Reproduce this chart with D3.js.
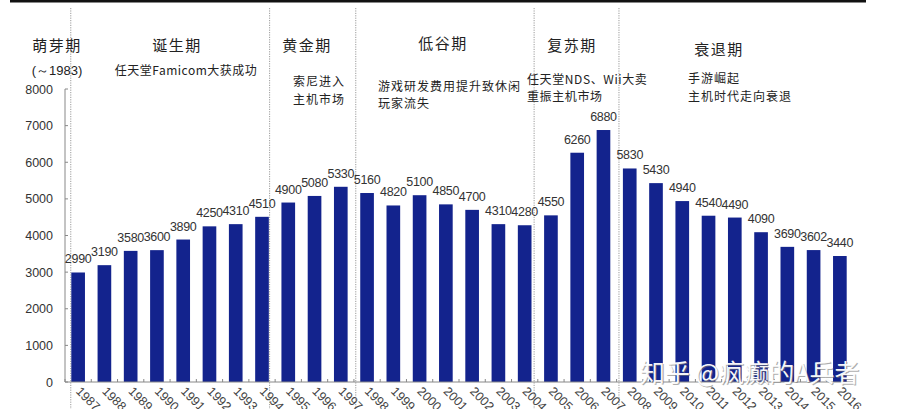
<!DOCTYPE html>
<html><head><meta charset="utf-8">
<script src="https://cdn.jsdelivr.net/npm/d3@7"></script>
<style>
html,body{margin:0;padding:0;background:#fff;}
svg{display:block;}
</style></head>
<body>
<script>
// ---- data ----
const years = [1987,1988,1989,1990,1991,1992,1993,1994,1995,1996,1997,1998,1999,2000,2001,2002,2003,2004,2005,2006,2007,2008,2009,2010,2011,2012,2013,2014,2015,2016];
const values = [2990,3190,3580,3600,3890,4250,4310,4510,4900,5080,5330,5160,4820,5100,4850,4700,4310,4280,4550,6260,6880,5830,5430,4940,4540,4490,4090,3690,3602,3440];
const yTicks = [0,1000,2000,3000,4000,5000,6000,7000,8000];
const phaseNames = ["萌芽期","诞生期","黄金期","低谷期","复苏期","衰退期"];
const phaseNotes = [["(～1983)"],["任天堂Famicom大获成功"],["索尼进入","主机市场"],["游戏研发费用提升致休闲","玩家流失"],["任天堂NDS、Wii大卖","重振主机市场"],["手游崛起","主机时代走向衰退"]];
const phaseStartYears = [1987,1995,1998,2005,2008];
const watermark = "知乎 @疯癫的A兵者";

const W = 899, H = 409;
const svg = d3.select("body").append("svg").attr("width",W).attr("height",H);

const x = d3.scaleBand().domain(years).range([65,853]).paddingInner(0.48).paddingOuter(0.24);
const y = d3.scaleLinear().domain([0,8000]).range([382,89]);
const step = x.step();

// top rule
svg.append("rect").attr("x",10).attr("y",0).attr("width",856).attr("height",2.5).attr("fill","#111");

// divider lines
const divOffsets = [-0.02, -0.45, -0.17, -0.38, -0.15];
svg.selectAll("line.div").data(phaseStartYears).enter().append("line")
  .attr("class","div")
  .attr("x1",(d,i)=>x(d)+divOffsets[i]*step).attr("x2",(d,i)=>x(d)+divOffsets[i]*step)
  .attr("y1",8).attr("y2",H)
  .attr("stroke","#9a9a9a").attr("stroke-width",1).attr("stroke-dasharray","1.2,1.2");

// phase titles & notes
const titlePos = [[57,51],[177,51],[307,51],[443,49],[572,51],[719,55]];
const cjk = "'Noto Sans CJK SC', sans-serif";
svg.selectAll("text.ph").data(phaseNames).enter().append("text")
  .attr("class","ph")
  .attr("x",(d,i)=>titlePos[i][0]).attr("y",(d,i)=>titlePos[i][1])
  .attr("text-anchor","middle").attr("font-family",cjk).attr("font-size",15)
  .attr("letter-spacing",1.5).attr("fill","#222").text(d=>d);

const notePos = [
  {x:57, y:75, a:"middle", ls:0, lh:17},
  {x:186, y:75, a:"middle", ls:0.5, lh:17},
  {x:319, y:86, a:"middle", ls:1, lh:18},
  {x:378, y:91, a:"start", ls:1, lh:17},
  {x:527, y:84, a:"start", ls:0.6, lh:17},
  {x:688, y:83, a:"start", ls:1, lh:18}
];
phaseNotes.forEach((lines,i)=>{
  const p = notePos[i];
  lines.forEach((t,j)=>{
    svg.append("text").attr("x",p.x).attr("y",p.y+j*p.lh)
      .attr("text-anchor",p.a)
      .attr("font-family", i===0 ? "'Liberation Sans', Arial, sans-serif" : cjk)
      .attr("font-size", i===0 ? 13 : 12)
      .attr("letter-spacing",p.ls).attr("fill","#222").text(t);
  });
});

// axes
const gy = svg.append("g");
gy.append("line").attr("x1",65).attr("x2",65).attr("y1",y(8000)).attr("y2",y(0)).attr("stroke","#888");
gy.selectAll("line.t").data(yTicks).enter().append("line")
  .attr("x1",65).attr("x2",68).attr("y1",d=>y(d)).attr("y2",d=>y(d)).attr("stroke","#888");
gy.selectAll("text").data(yTicks).enter().append("text")
  .attr("x",53).attr("y",d=>y(d)+4.5).attr("text-anchor","end")
  .attr("font-family","'Liberation Sans', Arial, sans-serif").attr("font-size",12.5)
  .attr("fill","#333").text(d=>d);

// bars
svg.selectAll("rect.bar").data(values).enter().append("rect")
  .attr("class","bar")
  .attr("x",(d,i)=>x(years[i])).attr("width",x.bandwidth())
  .attr("y",d=>y(d)).attr("height",d=>y(0)-y(d))
  .attr("fill","#13238d");

// value labels
svg.selectAll("text.val").data(values).enter().append("text")
  .attr("class","val")
  .attr("x",(d,i)=>x(years[i])+x.bandwidth()/2).attr("y",d=>y(d)-9)
  .attr("text-anchor","middle").attr("font-family","'Liberation Sans', Arial, sans-serif")
  .attr("font-size",12.5).attr("letter-spacing",-0.3).attr("fill","#333").text(d=>d);

// x axis
const gx = svg.append("g");
gx.append("line").attr("x1",65).attr("x2",853).attr("y1",y(0)).attr("y2",y(0)).attr("stroke","#888");
gx.selectAll("line.t").data(years).enter().append("line")
  .attr("x1",d=>x(d)-x.step()*0.24).attr("x2",d=>x(d)-x.step()*0.24)
  .attr("y1",y(0)).attr("y2",y(0)-3).attr("stroke","#888");
gx.selectAll("text").data(years).enter().append("text")
  .attr("transform",d=>`translate(${x(d)+x.bandwidth()/2-3},${y(0)+10}) rotate(45)`)
  .attr("font-family","'Liberation Sans', Arial, sans-serif").attr("font-size",12.5)
  .attr("fill","#444").text(d=>d);

// watermark
svg.append("text").attr("x",641).attr("y",383).attr("font-family",cjk).attr("font-size",25)
  .attr("fill","#777").attr("opacity",0.6).text(watermark);
svg.append("text").attr("x",640).attr("y",382).attr("font-family",cjk).attr("font-size",25)
  .attr("fill","#fff").attr("opacity",0.95).text(watermark);
</script>
</body></html>
